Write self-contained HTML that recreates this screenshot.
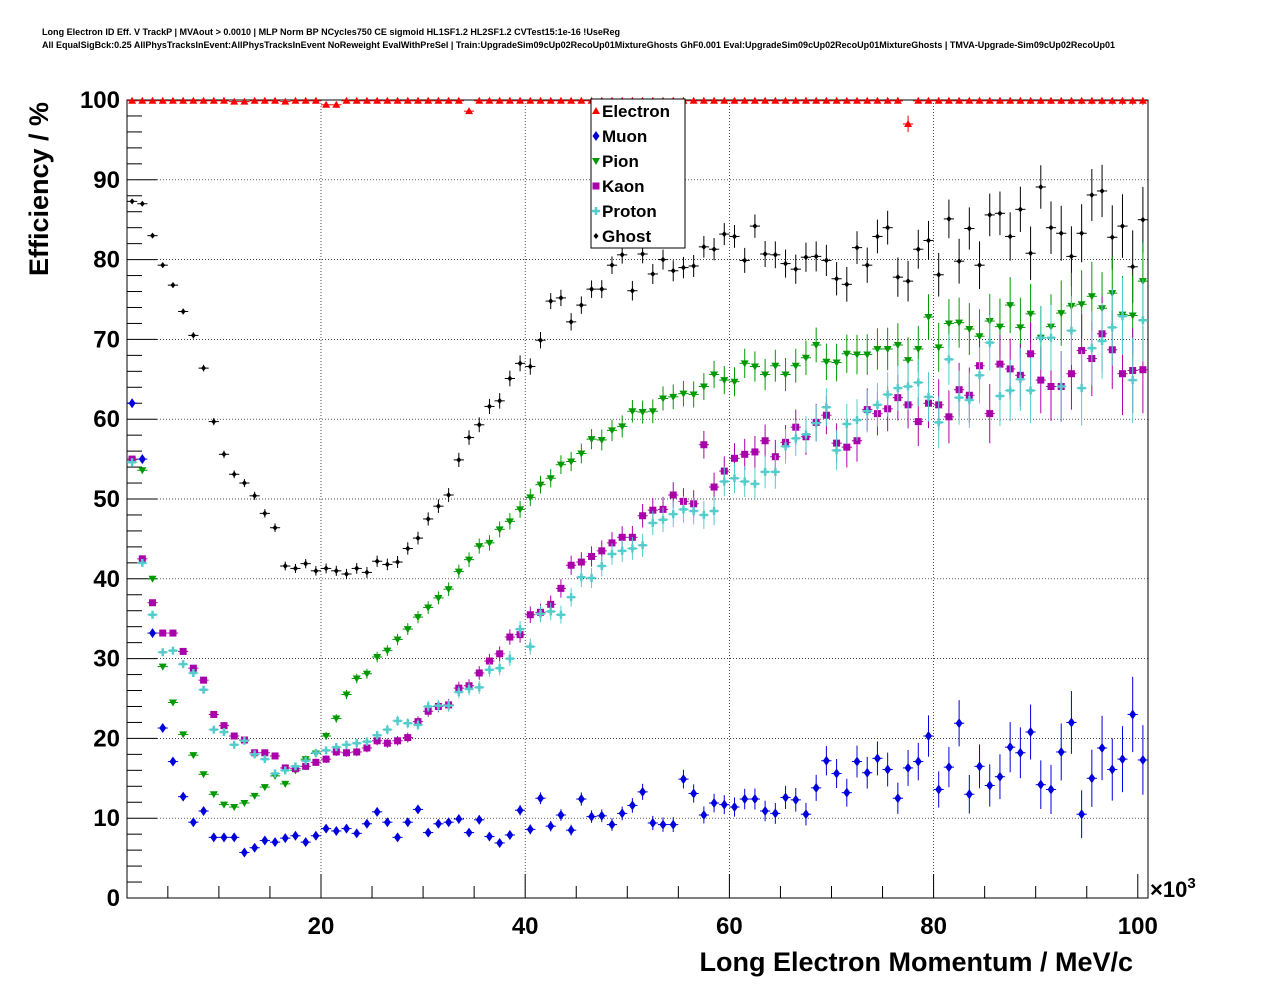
<!DOCTYPE html>
<html><head><meta charset="utf-8"><style>
body{margin:0;background:#fff;width:1276px;height:996px;overflow:hidden;font-family:"Liberation Sans",sans-serif}
svg text{font-family:"Liberation Sans",sans-serif;font-weight:bold}
</style></head><body>
<svg id="chart" width="1276" height="996" xmlns="http://www.w3.org/2000/svg">
<text x="42" y="35" font-size="9" textLength="578" lengthAdjust="spacingAndGlyphs">Long Electron ID Eff. V TrackP | MVAout &gt; 0.0010 | MLP Norm BP NCycles750 CE sigmoid HL1SF1.2 HL2SF1.2 CVTest15:1e-16 !UseReg</text>
<text x="42" y="48" font-size="9" textLength="1073" lengthAdjust="spacingAndGlyphs">All EqualSigBck:0.25 AllPhysTracksInEvent:AllPhysTracksInEvent NoReweight EvalWithPreSel | Train:UpgradeSim09cUp02RecoUp01MixtureGhosts GhF0.001 Eval:UpgradeSim09cUp02RecoUp01MixtureGhosts | TMVA-Upgrade-Sim09cUp02RecoUp01</text>
<g id="grid"></g><g id="axes"></g><g id="marks"></g>
<text transform="translate(48,189) rotate(-90)" text-anchor="middle" font-size="27">Efficiency / %</text>
<text x="1133" y="971" text-anchor="end" font-size="27">Long Electron Momentum / MeV/c</text>
<text x="1150" y="897" font-size="22" font-weight="normal">×10<tspan dy="-9" font-size="15">3</tspan></text>
<g id="legend"></g>
</svg>
<script>
const ghost=[87.3,87,83,79.3,76.8,73.5,70.5,66.4,59.7,55.6,53.1,52,50.4,48.2,46.4,41.6,41.3,41.9,41,41.3,41,40.6,41.3,40.8,42.2,41.8,42.1,43.8,45.1,47.5,49.1,50.5,54.9,57.7,59.3,61.6,62.3,65.1,67,66.6,69.9,74.8,75.2,72.2,74.3,76.3,76.3,79.3,80.6,76.1,80.7,78.2,80,78.6,79,79.2,81.6,81.3,83.2,82.9,79.9,84.2,80.7,80.6,79.5,78.8,80.3,80.4,79.9,77.6,76.9,81.5,79.3,82.9,84,77.8,77.3,81.3,82.4,78.1,85.1,79.8,83.9,79.3,85.6,85.8,82.9,86.3,80.8,89.1,84,83.3,80.4,83.3,88.1,88.6,82.8,84.2,79.1,85];
const pion=[54.9,53.6,40,29,24.5,20.5,17.9,15.5,13,11.7,11.4,11.9,12.8,13.9,15.3,14.3,16,17.4,18.1,20.3,22.5,25.5,27.5,28.1,30.2,31,32.4,33.7,35.2,36.4,37.6,38.7,40.9,42.4,44.1,44.5,46.2,47.2,48.7,50.2,51.8,52.6,54.3,54.7,55.7,57.5,57.4,58.6,59.1,61,60.9,61,62.6,62.8,63.2,63.1,64.1,65.6,64.9,64.7,67,66.6,65.6,66.7,65.6,66.7,67.7,69.3,67.2,67.1,68.2,68.1,68.1,68.8,68.8,69.3,67.4,68.8,72.8,69,72,72.1,71.3,70.4,72.3,71.6,74.3,71.5,73.2,70.2,71.6,73.3,74.2,74.4,75.4,73.9,75.8,73.1,73,77.3];
const kaon=[55,42.5,37,33.2,33.2,30.9,28.8,27.3,23,21.6,20.3,19.8,18.2,18.2,17.8,16.3,16.2,16.5,17,17.4,18.3,18.2,18.3,18.8,19.7,19.4,19.7,20.1,22.1,23.4,24,24.2,26.3,26.6,28.2,29.7,30.6,32.7,33,35.5,35.8,36.8,38.8,41.7,42.1,42.8,43.5,44.5,45.2,45.2,47.9,48.6,48.7,50.5,49.7,49.4,56.8,51.5,53.5,55.1,55.6,55.9,57.3,55.3,57.1,59,57.8,59.6,60.5,57,56.5,57.3,61.2,60.7,61.3,62.7,61.8,59.7,62,61.8,60.3,63.7,63,66.7,60.7,66.9,66.3,65.5,68.2,64.9,64.1,64.1,65.7,68.6,67.6,70.7,68.7,65.7,66.1,66.2];
const proton=[54.6,42,35.5,30.8,31,29.3,28.2,26.1,21.1,20.8,19.2,19.7,18,17.4,15.6,16,16.5,17.2,18.2,18.5,18.9,19.2,19.4,19.6,20.4,21.1,22.2,21.9,21.7,24,24.1,24.1,25.8,26.2,26.4,28.6,28.8,30,33.7,31.5,35.6,35.9,35.5,37.7,40.2,40.1,41.6,43.1,43.5,43.8,44.2,47,47.4,48.1,48.7,48.5,48,48.5,52.2,52.6,52.2,51.9,53.4,53.4,56.6,57.6,58.1,59.5,61.5,56.1,59.4,59.9,61,61.8,63.1,63.9,64.1,64.6,62.8,59.6,67.5,62.7,62.4,65.5,69.6,62.9,63.6,65,63.6,70.2,70.2,64.1,71.1,63.9,68.9,69.8,71.5,72.9,64.9,72.4];
const muon=[62,55,33.2,21.3,17.1,12.7,9.5,10.9,7.6,7.6,7.6,5.7,6.3,7.2,7,7.5,7.8,7,7.8,8.7,8.4,8.7,8.1,9.3,10.8,9.5,7.6,9.5,11.1,8.2,9.3,9.5,9.9,8.2,9.8,7.7,6.9,7.9,11,8.6,12.5,9,10.4,8.5,12.4,10.2,10.3,9.2,10.6,11.6,13.3,9.4,9.2,9.2,14.9,13.1,10.4,11.9,11.7,11.4,12.4,12.4,10.9,10.6,12.6,12.3,10.5,13.8,17.2,15.6,13.2,17.1,15.7,17.5,16.1,12.5,16.3,17.1,20.3,13.6,16.4,21.9,13,16.5,14.1,15.2,18.9,18.2,20.8,14.2,13.6,18.3,22,10.5,15,18.8,16.1,17.4,23,17.3];
const electron=[99.9,99.9,99.9,99.9,99.9,99.9,99.9,99.9,99.9,99.9,99.8,99.8,99.9,99.9,99.9,99.8,99.9,99.9,99.9,99.4,99.4,99.9,99.9,99.9,99.9,99.9,99.9,99.9,99.9,99.9,99.9,99.9,99.9,98.6,99.9,99.9,99.9,99.9,99.9,99.9,99.9,99.9,99.9,99.9,99.9,99.9,99.9,99.9,99.9,99.9,99.9,99.9,99.9,99.9,99.9,99.9,99.9,99.9,99.9,99.9,99.9,99.9,99.9,99.9,99.9,99.9,99.9,99.9,99.9,99.9,99.9,99.9,99.9,99.9,99.9,99.9,97,99.9,99.9,99.9,99.9,99.9,99.9,99.9,99.9,99.9,99.9,99.9,99.9,99.9,99.9,99.9,99.9,99.9,99.9,99.9,99.9,99.9,99.9,99.9];
const xTicks=[20,40,60,80,100];
const yTicks=[0,10,20,30,40,50,60,70,80,90,100];
const binStart=1, binWidth=1;

const NS="http://www.w3.org/2000/svg";
const X0=127,X1=1148,Y0=898,Y1=100,xmin=1,xmax=101;
const sx=v=>X0+(v-xmin)/(xmax-xmin)*(X1-X0);
const sy=v=>Y0-v/100*(Y0-Y1);
function mk(tag,attrs,parent){const e=document.createElementNS(NS,tag);for(const k in attrs)e.setAttribute(k,attrs[k]);parent.appendChild(e);return e;}
const grid=document.getElementById('grid'),axes=document.getElementById('axes'),marks=document.getElementById('marks');
mk('rect',{x:X0,y:Y1,width:X1-X0,height:Y0-Y1,fill:'none',stroke:'#000','stroke-width':1},axes);
xTicks.forEach(t=>{const x=sx(t);
 if(t<100){const l=mk('line',{x1:x,x2:x,y1:Y1,y2:Y0,stroke:'#000','stroke-dasharray':'1,2','stroke-width':0.7},grid);}
 mk('line',{x1:x,x2:x,y1:Y0,y2:Y0-24,stroke:'#000'},axes);
 const tx=mk('text',{x:x,y:934,'text-anchor':'middle','font-size':24},axes);tx.textContent=t;
 });
for(let v=5;v<=100;v+=5){if(v%20)mk('line',{x1:sx(v),x2:sx(v),y1:Y0,y2:Y0-12,stroke:'#000'},axes);}
yTicks.forEach(t=>{const y=sy(t);
 if(t>0&&t<100){const l=mk('line',{x1:X0,x2:X1,y1:y,y2:y,stroke:'#000','stroke-dasharray':'1,2','stroke-width':0.7},grid);}
 mk('line',{x1:X0,x2:X0+30,y1:y,y2:y,stroke:'#000'},axes);
 const tx=mk('text',{x:120,y:y+8,'text-anchor':'end','font-size':24},axes);tx.textContent=t;
 });
for(let v=2;v<100;v+=2){if(v%10)mk('line',{x1:X0,x2:X0+15,y1:sy(v),y2:sy(v),stroke:'#000'},axes);}

function marker(kind,x,y,c,p){
 if(kind==='tu')return mk('path',{d:`M${x},${y-4}L${x+4},${y+3}L${x-4},${y+3}Z`,fill:c},p);
 if(kind==='td')return mk('path',{d:`M${x},${y+4}L${x+4},${y-3}L${x-4},${y-3}Z`,fill:c},p);
 if(kind==='sq')return mk('rect',{x:x-3.5,y:y-3.5,width:7,height:7,fill:c},p);
 if(kind==='dm')return mk('path',{d:`M${x},${y-5}L${x+3.5},${y}L${x},${y+5}L${x-3.5},${y}Z`,fill:c},p);
 if(kind==='sd')return mk('path',{d:`M${x},${y-3}L${x+2.5},${y}L${x},${y+3}L${x-2.5},${y}Z`,fill:c},p);
 if(kind==='pl')return mk('path',{d:`M${x-4},${y}H${x+4}M${x},${y-4}V${y+4}`,stroke:c,'stroke-width':2.5},p);
}
const series=[
 {name:'electron',vals:electron,c:'#f00',m:'tu'},
 {name:'ghost',vals:ghost,c:'#000',m:'sd'},
 {name:'pion',vals:pion,c:'#090',m:'td'},
 {name:'kaon',vals:kaon,c:'#a0a',m:'sq'},
 {name:'proton',vals:proton,c:'#5cc',m:'pl'},
 {name:'muon',vals:muon,c:'#00d',m:'dm'}];
series.forEach(s=>{
 const g=mk('g',{},marks);
 s.vals.forEach((v,i)=>{
  const lo=binStart+i*binWidth,mid=lo+binWidth/2,p=v/100;
  const N=20000*Math.exp(-mid/18);
  const err=Math.max(100*Math.sqrt(Math.max(p*(1-p),0.002)/N),0.15);
  const x=sx(mid),y=sy(v);
  mk('line',{x1:sx(lo),x2:sx(lo+binWidth),y1:y,y2:y,stroke:s.c,'stroke-width':1},g);
  mk('line',{x1:x,x2:x,y1:sy(Math.min(v+err,100)),y2:sy(Math.max(v-err,0)),stroke:s.c,'stroke-width':1},g);
  const mm=marker(s.m,x,y,s.c,g);
  
  
 });
});
const leg=document.getElementById('legend');
mk('rect',{x:591,y:99,width:94,height:149,fill:'#fff',stroke:'#000'},leg);
const legItems=[['Electron','#f00','tu'],['Muon','#00d','dm'],['Pion','#090','td'],['Kaon','#a0a','sq'],['Proton','#5cc','pl'],['Ghost','#000','sd']];
legItems.forEach((it,i)=>{const y=111+i*25;
 const g=mk('g',{},leg);
 marker(it[2],596,y,it[1],g);
 const t=mk('text',{x:602,y:y+6,'font-size':17},g);t.textContent=it[0];});
</script>
</body></html>
